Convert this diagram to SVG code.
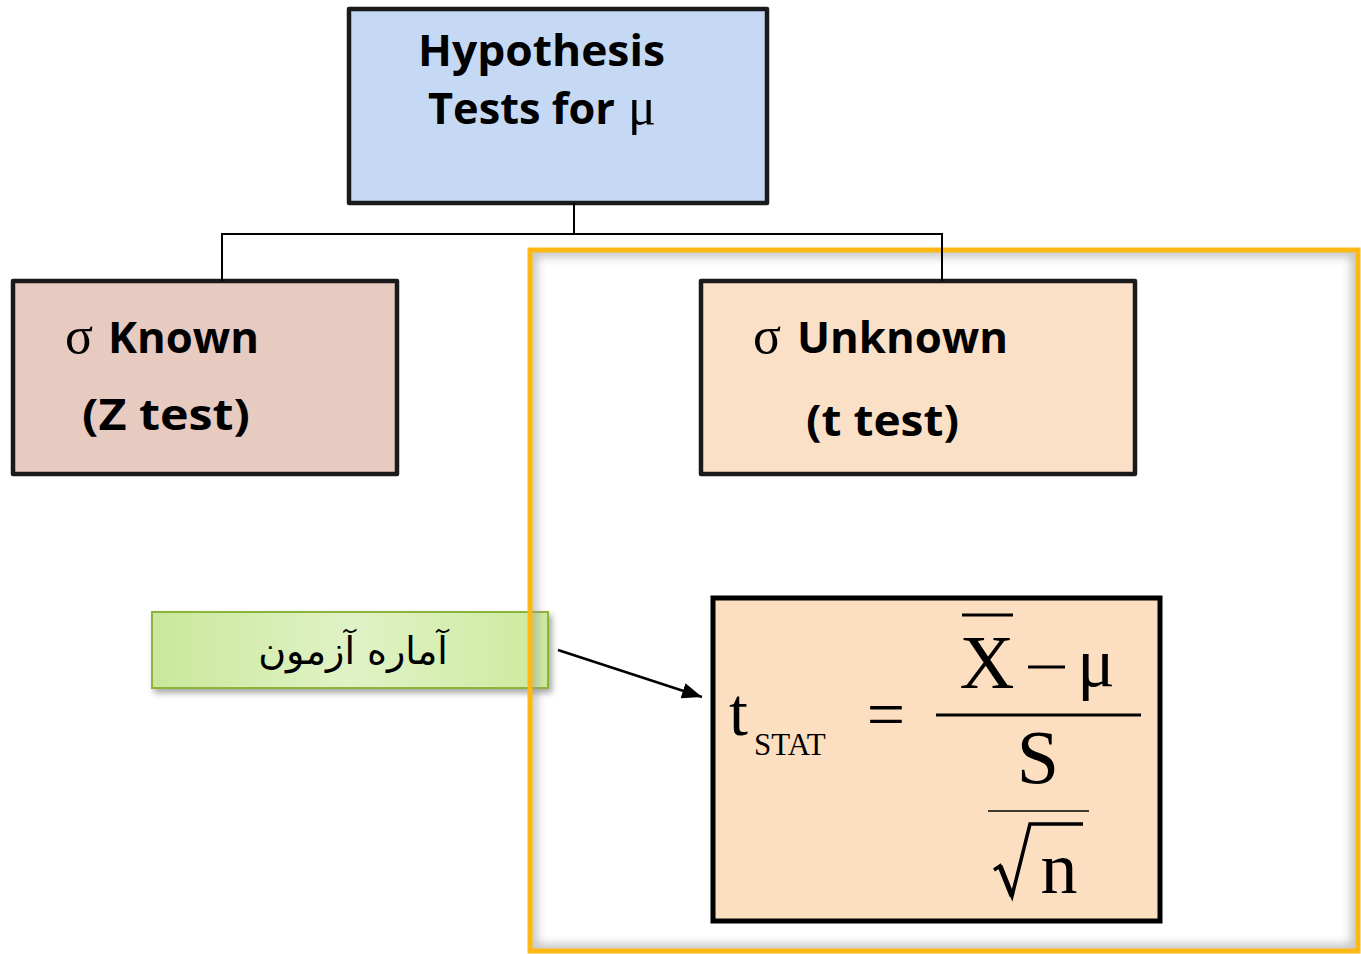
<svg xmlns="http://www.w3.org/2000/svg" width="1361" height="954" viewBox="0 0 1361 954">
<style>
.box{stroke:#1a1a1a;stroke-width:4.5;stroke-linejoin:round}
.hd{font-family:"Open Sans",Lato,sans-serif;font-weight:bold;font-size:43px;fill:#000}
.sig{font-family:"Liberation Serif",serif;font-size:52px;fill:#000}
.math{font-family:"Liberation Serif",serif;fill:#000}
.conn{stroke:#000;stroke-width:2;fill:none}
</style>
<defs>
<linearGradient id="gg" x1="0" y1="0" x2="1" y2="0">
<stop offset="0" stop-color="#c9e89a"/>
<stop offset="0.5" stop-color="#e0f2c6"/>
<stop offset="1" stop-color="#cdea9e"/>
</linearGradient>
<filter id="sh" x="-10%" y="-20%" width="130%" height="160%">
<feDropShadow dx="3" dy="4" stdDeviation="3" flood-color="#000" flood-opacity="0.35"/>
</filter>
<filter id="blur" x="-5%" y="-5%" width="110%" height="110%"><feGaussianBlur stdDeviation="5"/></filter>
<clipPath id="fc"><rect x="532" y="252" width="824" height="697"/></clipPath>
<marker id="arr" viewBox="0 0 20 16" refX="20" refY="8" markerWidth="20" markerHeight="16" markerUnits="userSpaceOnUse" orient="auto">
<path d="M0,0 L20,8 L0,16 z" fill="#000"/>
</marker>
</defs>

<g id="green-label">
<rect x="152" y="612" width="396" height="76" fill="url(#gg)" stroke="#8db33a" stroke-width="2" filter="url(#sh)"/>
<text x="353" y="664" text-anchor="middle" font-family="'DejaVu Sans','Noto Sans',sans-serif" font-size="38" fill="#000" direction="rtl">آماره آزمون</text>
</g>

<g id="frame">
<g clip-path="url(#fc)"><rect x="532" y="252" width="824" height="697" fill="none" stroke="#999" stroke-width="10" filter="url(#blur)" opacity="0.6"/></g>
<rect x="530" y="250" width="828" height="701" fill="none" stroke="#fdb813" stroke-width="5"/>
</g>

<g id="top">
<rect class="box" x="349" y="9" width="418" height="194" fill="#c6d9f4"/>
<text class="hd" x="418" y="66" textLength="247" lengthAdjust="spacingAndGlyphs">Hypothesis</text>
<text class="hd" x="428" y="124" textLength="187" lengthAdjust="spacingAndGlyphs">Tests for</text>
<text class="sig" x="628" y="124">μ</text>
</g>

<g id="known">
<rect class="box" x="13" y="281" width="384" height="193" fill="#e8cbc0"/>
<text class="sig" x="65" y="353">σ</text>
<text class="hd" x="108" y="353" textLength="151" lengthAdjust="spacingAndGlyphs">Known</text>
<text class="hd" x="82" y="430" textLength="168" lengthAdjust="spacingAndGlyphs">(Z test)</text>
</g>

<g id="unknown">
<rect class="box" x="701" y="281" width="434" height="193" fill="#fbe0c8"/>
<text class="sig" x="753" y="353">σ</text>
<text class="hd" x="797" y="353" textLength="211" lengthAdjust="spacingAndGlyphs">Unknown</text>
<text class="hd" x="806" y="436" textLength="153" lengthAdjust="spacingAndGlyphs">(t test)</text>
</g>

<g id="formula">
<rect x="713" y="598" width="447" height="323" fill="#fcdfc0" stroke="#000" stroke-width="5"/>
<text class="math" x="729" y="735" font-size="68">t</text>
<text class="math" x="754" y="755" font-size="31">STAT</text>
<text class="math" x="886" y="737" font-size="68" text-anchor="middle">=</text>
<line x1="936" y1="715" x2="1141" y2="715" stroke="#000" stroke-width="3"/>
<text class="math" x="987" y="688" font-size="76" text-anchor="middle">X</text>
<line x1="962" y1="615" x2="1013" y2="615" stroke="#000" stroke-width="3"/>
<line x1="1028" y1="667" x2="1065" y2="667" stroke="#000" stroke-width="3"/>
<text class="math" x="1096" y="686" font-size="70" text-anchor="middle">μ</text>
<text class="math" x="1038" y="783" font-size="76" text-anchor="middle">S</text>
<line x1="988" y1="811" x2="1089" y2="811" stroke="#000" stroke-width="1.5"/>
<path d="M994,870 L1000,866 L1012,896 L1030,824 L1083,824" fill="none" stroke="#000" stroke-width="3.5" stroke-linejoin="miter"/>
<path d="M1000,866 L1012,896" stroke="#000" stroke-width="5" fill="none"/>
<text class="math" x="1059" y="893" font-size="74" text-anchor="middle">n</text>
</g>

<g id="connectors">
<path class="conn" d="M574,203 V234 M222,281 V234 H942 V281"/>
<line x1="558" y1="650" x2="702" y2="697" stroke="#000" stroke-width="2.5" marker-end="url(#arr)"/>
</g>
</svg>
